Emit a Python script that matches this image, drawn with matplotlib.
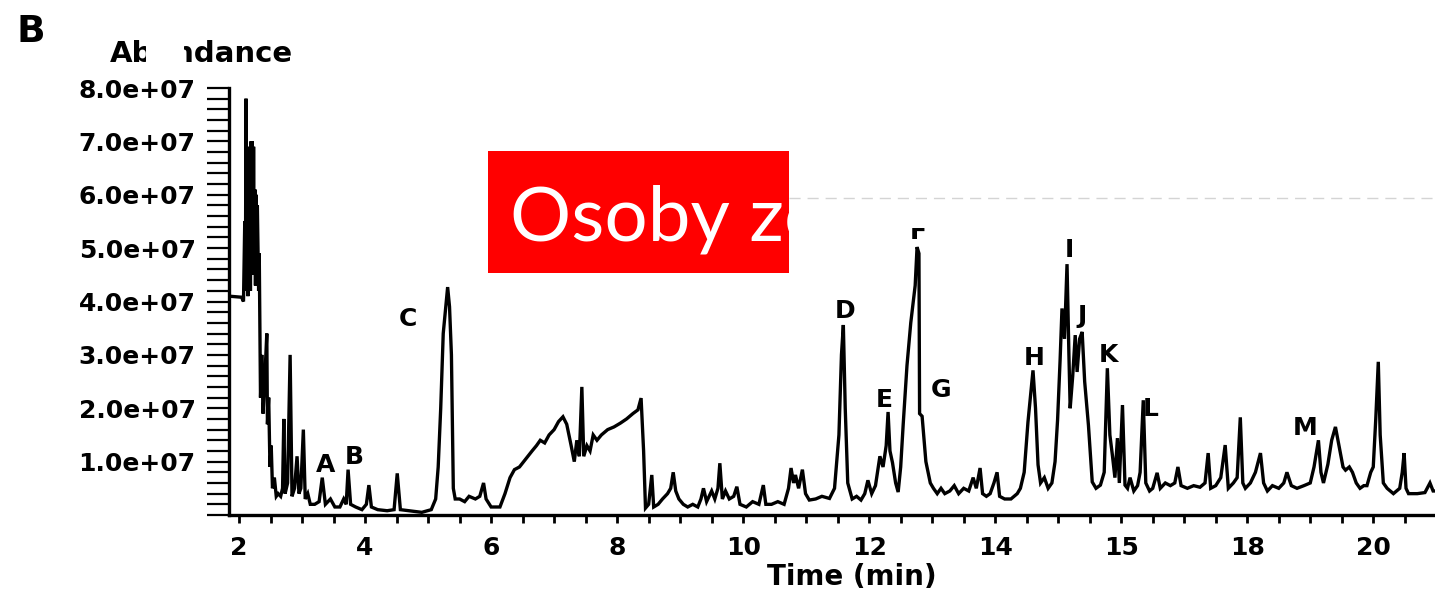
import numpy as np
import matplotlib
matplotlib.use('Agg')
import matplotlib.pyplot as plt
from matplotlib.patches import Rectangle
from matplotlib.lines import Line2D

# chromatogram: time in min, abundance in units of 1e7
time_min = [
    1.84, 2.04, 2.07, 2.09, 2.10, 2.11, 2.12, 2.13, 2.14, 2.15, 2.16, 2.17, 2.18, 2.19, 2.20,
    2.21, 2.22, 2.23, 2.24, 2.25, 2.26, 2.27, 2.28, 2.29,
    2.31, 2.32, 2.34, 2.36, 2.38, 2.41, 2.44, 2.45, 2.47, 2.49, 2.51, 2.53, 2.56, 2.59, 2.62,
    2.66, 2.69, 2.71, 2.73, 2.77, 2.81, 2.84, 2.88, 2.92, 2.95, 2.98, 3.02, 3.05, 3.09, 3.13,
    3.20, 3.27, 3.32, 3.37, 3.45, 3.52, 3.60, 3.66, 3.70, 3.73, 3.77, 3.85, 3.95, 4.02, 4.06,
    4.10, 4.20, 4.35, 4.46, 4.51, 4.56, 4.70, 4.90, 5.05, 5.12, 5.16, 5.20, 5.24, 5.28, 5.31,
    5.34, 5.37, 5.40, 5.43, 5.50, 5.58, 5.65, 5.75, 5.82, 5.88, 5.92, 6.00, 6.14, 6.22, 6.30,
    6.37, 6.45, 6.55, 6.65, 6.72, 6.78, 6.85, 6.92, 7.00, 7.07, 7.14, 7.20, 7.27, 7.32, 7.36,
    7.40, 7.44, 7.47, 7.52, 7.57, 7.62, 7.68, 7.75, 7.85, 7.95, 8.05, 8.15, 8.25, 8.33, 8.38,
    8.42, 8.45, 8.50, 8.55, 8.58, 8.65, 8.72, 8.80, 8.85, 8.89, 8.93, 8.98, 9.05, 9.12, 9.20,
    9.28, 9.33, 9.37, 9.42, 9.50, 9.55, 9.60, 9.63, 9.67, 9.72, 9.78, 9.85, 9.90, 9.95, 10.05,
    10.15, 10.25, 10.32, 10.36, 10.45, 10.55, 10.65, 10.72, 10.76, 10.80, 10.83, 10.88, 10.94,
    10.99, 11.05, 11.15, 11.25, 11.37, 11.45, 11.52, 11.56, 11.59, 11.62, 11.66, 11.73, 11.80,
    11.87, 11.93, 11.98, 12.04, 12.10, 12.17, 12.22, 12.27, 12.30, 12.33, 12.37, 12.42, 12.46,
    12.50, 12.54, 12.60, 12.66, 12.70, 12.73, 12.76, 12.79, 12.80, 12.84, 12.90, 12.97, 13.02,
    13.08, 13.14, 13.20, 13.28, 13.35, 13.42, 13.50, 13.58, 13.65, 13.70, 13.76, 13.80, 13.86,
    13.92, 13.98, 14.03, 14.07, 14.15, 14.25, 14.35, 14.40, 14.46, 14.52, 14.60, 14.64, 14.68,
    14.72, 14.78, 14.84, 14.90, 14.95, 14.99, 15.03, 15.06, 15.10, 15.14, 15.17, 15.19, 15.23,
    15.27, 15.30, 15.34, 15.38, 15.42, 15.48, 15.54, 15.60, 15.67, 15.73, 15.78, 15.82, 15.86,
    15.90, 15.94, 15.97, 16.02, 16.06, 16.10, 16.14, 16.20, 16.26, 16.30, 16.35, 16.39, 16.45,
    16.50, 16.57, 16.62, 16.70, 16.78, 16.85, 16.90, 16.95, 17.05, 17.15, 17.25, 17.33, 17.38,
    17.42, 17.50, 17.58, 17.65, 17.70, 17.78, 17.84, 17.89, 17.93, 17.97, 18.05, 18.13, 18.21,
    18.26, 18.32, 18.40, 18.50, 18.58, 18.63, 18.70, 18.79, 18.90, 19.00, 19.06, 19.13, 19.17,
    19.21, 19.28, 19.34, 19.40, 19.44, 19.48, 19.52, 19.56, 19.62, 19.67, 19.73, 19.79, 19.85,
    19.90, 19.96, 20.00, 20.04, 20.08, 20.11, 20.16, 20.22, 20.32, 20.42, 20.46, 20.49, 20.52,
    20.56, 20.70, 20.82, 20.90, 20.95, 21.00,
]
abundance = [
    4.10, 4.08, 4.00, 5.50, 4.20, 7.80, 4.30, 6.80, 4.10, 6.20, 4.40, 6.90, 4.20, 7.00, 4.60,
    7.00, 4.50, 6.90, 4.80, 6.10, 4.30, 6.00, 4.40, 5.80,
    4.20, 4.90, 2.20, 3.00, 1.90, 2.60, 3.40, 1.70, 2.20, 0.90, 1.30, 0.50, 0.70, 0.35, 0.40,
    0.35, 0.50, 1.80, 0.40, 0.60, 3.00, 0.35, 0.50, 1.10, 0.40, 0.50, 1.60, 0.30, 0.40, 0.20,
    0.20, 0.25, 0.70, 0.20, 0.30, 0.15, 0.15, 0.30, 0.20, 0.85, 0.20, 0.15, 0.10, 0.20, 0.56,
    0.15, 0.10, 0.08, 0.10, 0.78, 0.10, 0.08, 0.05, 0.10, 0.30, 0.90, 2.00, 3.40, 3.90, 4.27,
    3.90, 3.00, 0.50, 0.30, 0.30, 0.25, 0.35, 0.30, 0.35, 0.60, 0.30, 0.15, 0.15, 0.40, 0.70,
    0.85, 0.90, 1.05, 1.20, 1.30, 1.40, 1.35, 1.50, 1.60, 1.75, 1.84, 1.70, 1.30, 1.00, 1.40,
    1.10, 2.40, 1.10, 1.30, 1.20, 1.50, 1.40, 1.50, 1.60, 1.65, 1.72, 1.80, 1.90, 1.97, 2.19,
    1.20, 0.13, 0.20, 0.75, 0.15, 0.20, 0.30, 0.40, 0.50, 0.80, 0.45, 0.30, 0.20, 0.15, 0.20,
    0.15, 0.30, 0.50, 0.25, 0.45, 0.30, 0.50, 0.97, 0.30, 0.45, 0.30, 0.35, 0.53, 0.20, 0.15,
    0.25, 0.20, 0.56, 0.20, 0.20, 0.25, 0.20, 0.50, 0.88, 0.60, 0.75, 0.50, 0.85,
    0.40, 0.28, 0.30, 0.35, 0.31, 0.50, 1.50, 3.00, 3.56, 2.00, 0.60, 0.30, 0.35,
    0.28, 0.40, 0.65, 0.40, 0.55, 1.10, 0.90, 1.30, 1.93, 1.20, 0.98, 0.60, 0.43,
    0.90, 1.70, 2.80, 3.60, 4.00, 4.30, 5.02, 4.90, 1.90, 1.85, 1.00, 0.60, 0.50,
    0.40, 0.50, 0.40, 0.45, 0.55, 0.40, 0.50, 0.45, 0.70, 0.50, 0.88, 0.40, 0.35,
    0.40, 0.60, 0.80, 0.35, 0.30, 0.30, 0.40, 0.50, 0.80, 1.74, 2.71, 2.00, 0.94,
    0.60, 0.70, 0.50, 0.60, 1.00, 1.78, 2.90, 3.87, 3.30, 4.70, 3.00, 2.00, 2.60,
    3.37, 2.68, 3.30, 3.43, 2.50, 1.68, 0.62, 0.50, 0.56, 0.80, 2.75, 1.50, 1.12,
    0.70, 1.44, 0.60, 2.06, 0.56, 0.50, 0.70, 0.45, 0.55, 0.80, 2.15, 0.60, 0.45,
    0.50, 0.79, 0.50, 0.60, 0.55, 0.60, 0.90, 0.55, 0.50, 0.55, 0.52, 0.60, 1.16,
    0.50, 0.55, 0.70, 1.31, 0.50, 0.60, 0.70, 1.83, 0.60, 0.50, 0.60, 0.80, 1.16,
    0.60, 0.45, 0.55, 0.50, 0.60, 0.80, 0.55, 0.50, 0.55, 0.60, 0.90, 1.40, 0.80,
    0.60, 0.95, 1.40, 1.65, 1.40, 1.16, 0.90, 0.84, 0.90, 0.80, 0.60, 0.50, 0.55,
    0.55, 0.80, 0.90, 1.80, 2.87, 1.50, 0.60, 0.50, 0.40, 0.50, 0.80, 1.16, 0.50,
    0.40, 0.40, 0.42, 0.60, 0.45, 0.45,
]

# peak letters and where they sit (time, abundance 1e7)
peak_names = ['A', 'B', 'C', 'D', 'E', 'F', 'G', 'H', 'I', 'J', 'K', 'L', 'M']
peak_time = [3.37, 3.83, 4.68, 11.62, 12.24, 12.78, 13.14, 14.62, 15.17, 15.38, 15.79, 16.46, 18.92]
peak_abund = [0.94, 1.09, 3.67, 3.82, 2.15, 5.30, 2.34, 2.94, 4.96, 3.73, 3.00, 1.99, 1.63]

x_ticks = [2, 4, 6, 8, 10, 12, 14, 16, 18, 20]
x_tick_labels = ['2', '4', '6', '8', '10', '12', '14', '15', '18', '20']
y_ticks = [1, 2, 3, 4, 5, 6, 7, 8]
y_tick_labels = ['1.0e+07', '2.0e+07', '3.0e+07', '4.0e+07',
                 '5.0e+07', '6.0e+07', '7.0e+07', '8.0e+07']

W, H = 1435, 592


def fx(px):
    return px / W


def fy(py):
    return 1 - py / H


plt.rcParams['font.family'] = 'DejaVu Sans'
plt.rcParams['font.weight'] = 'bold'

fig = plt.figure(figsize=(W / 100, H / 100), dpi=100)
ax = fig.add_axes([fx(229), fy(515), fx(1435) - fx(229), fy(88) - fy(515)])

ax.plot(time_min, np.array(abundance) * 1e7, color='black', lw=2.4, solid_joinstyle='miter')
for name, t, a in zip(peak_names, peak_time, peak_abund):
    ax.text(t, a * 1e7, name, ha='center', va='center', fontsize=18, fontweight='bold')

ax.set_xlim(1.84, 20.98)
ax.set_ylim(0, 8e7)
ax.set_xticks(x_ticks)
ax.set_xticklabels(x_tick_labels)
ax.set_xticks(np.arange(2, 21, 0.5), minor=True)
ax.set_yticks([v * 1e7 for v in y_ticks])
ax.set_yticklabels(y_tick_labels)
ax.set_yticks(np.arange(0, 8.01e7, 2e6), minor=True)

for s in ['top', 'right']:
    ax.spines[s].set_visible(False)
for s in ['left', 'bottom']:
    ax.spines[s].set_linewidth(2.4)

ax.tick_params(axis='y', which='both', direction='out', length=16, width=1.6, pad=8,
               labelsize=18)
ax.tick_params(axis='x', which='both', direction='out', length=6, width=2.0, pad=9,
               labelsize=18)
for lab in ax.get_xticklabels() + ax.get_yticklabels():
    lab.set_fontweight('bold')

fig.text(fx(852), fy(577), 'Time (min)', ha='center', va='center', fontsize=20,
         fontweight='bold')
fig.text(fx(16), fy(42), 'B', ha='left', va='baseline', fontsize=27, fontweight='bold')
fig.text(fx(110), fy(62), 'Abundance', ha='left', va='baseline', fontsize=21,
         fontweight='bold')

# pasted boxes lying over the figure
fig.add_artist(Rectangle((fx(146), fy(70)), fx(184) - fx(146), fy(35) - fy(70),
                         transform=fig.transFigure, facecolor='white', edgecolor='none',
                         zorder=5))
fig.add_artist(Rectangle((fx(789), fy(228)), fx(1435) - fx(789), fy(151) - fy(228),
                         transform=fig.transFigure, facecolor='white', edgecolor='none',
                         zorder=5))
fig.add_artist(Line2D([fx(789), fx(1435)], [fy(198), fy(198)], transform=fig.transFigure,
                      color='#d4d4d4', lw=1.0, linestyle=(0, (8, 5)), zorder=6))
red_box = Rectangle((fx(488), fy(273)), fx(789) - fx(488), fy(151) - fy(273),
                    transform=fig.transFigure, facecolor='#ff0000', edgecolor='none',
                    zorder=7)
fig.add_artist(red_box)
label = fig.text(fx(510), fy(240), 'Osoby zo', ha='left', va='baseline', fontsize=55,
                 color='white', fontweight='normal', family='Lato', zorder=8)
label.set_clip_path(red_box)

fig.savefig('out.png', dpi=100)
